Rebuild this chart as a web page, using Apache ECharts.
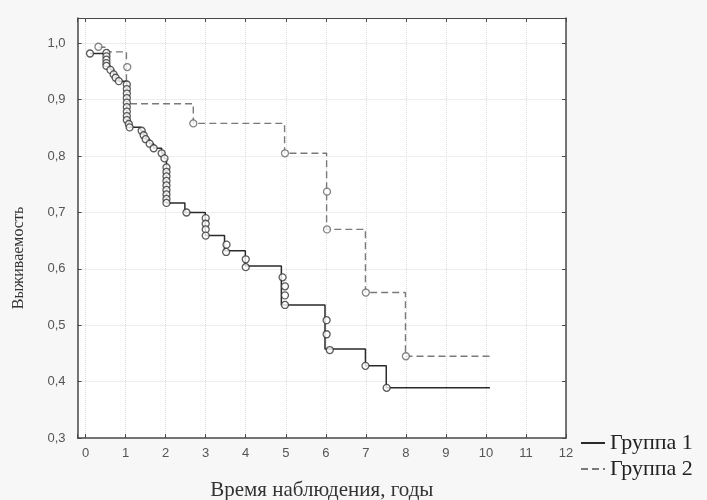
<!DOCTYPE html>
<html>
<head>
<meta charset="utf-8">
<script src="https://cdn.jsdelivr.net/npm/echarts@6/dist/echarts.min.js"></script>
<style>
html,body{margin:0;padding:0;background:#f7f7f7;}
#c{width:707px;height:500px;}
</style>
</head>
<body>
<div id="c"></div>
<script>
// Tick labels
const xTickValues = [0,1,2,3,4,5,6,7,8,9,10,11,12];
const yTickValues = [0.3,0.4,0.5,0.6,0.7,0.8,0.9,1.0];

// Group 1: Kaplan–Meier step vertices (time, survival after the time)
const g1StepT = [0.11,0.52,0.62,0.70,0.75,0.83,1.03,1.08,1.10,1.38,1.45,1.50,1.60,1.70,1.90,1.97,2.02,2.48,2.99,3.47,3.99,4.89,5.98,6.99,7.51,10.1];
const g1StepS = [0.982,0.960,0.953,0.945,0.939,0.933,0.864,0.857,0.851,0.845,0.837,0.830,0.822,0.814,0.805,0.796,0.717,0.700,0.659,0.632,0.605,0.536,0.458,0.428,0.389,0.389];
// Group 1 markers
const g1MarkT = [0.11,0.52,0.52,0.52,0.52,0.52,0.62,0.70,0.75,0.83,
  1.03,1.03,1.03,1.03,1.03,1.03,1.03,1.03,1.03,1.08,1.10,
  1.40,1.45,1.50,1.60,1.70,1.90,1.97,
  2.02,2.02,2.02,2.02,2.02,2.02,2.02,2.02,2.02,
  2.52,3.00,3.00,3.00,3.00,3.52,3.51,4.00,4.00,
  4.92,4.98,4.98,4.98,6.02,6.02,6.10,6.99,7.52];
const g1MarkS = [0.982,0.983,0.977,0.971,0.965,0.960,0.953,0.945,0.939,0.933,
  0.927,0.919,0.911,0.903,0.895,0.887,0.879,0.871,0.864,0.857,0.851,
  0.845,0.837,0.830,0.822,0.814,0.805,0.796,
  0.780,0.772,0.764,0.756,0.748,0.740,0.732,0.724,0.717,
  0.700,0.690,0.680,0.670,0.659,0.643,0.630,0.617,0.603,
  0.585,0.569,0.553,0.536,0.509,0.484,0.456,0.428,0.389];

// Group 2
const g2StepT = [0.32,0.55,1.02,2.69,4.97,6.02,6.99,7.99,10.1];
const g2StepS = [0.993,0.985,0.893,0.858,0.805,0.670,0.558,0.445,0.445];
const g2MarkT = [0.32,1.04,2.69,4.98,6.03,6.03,7.00,8.00];
const g2MarkS = [0.994,0.958,0.858,0.805,0.737,0.670,0.558,0.445];

const zip = (a,b) => a.map((v,i)=>[v,b[i]]);

const frameColor = '#4a4a4a';
const tickFont = "'Liberation Sans', Arial, sans-serif";
const serif = "'Liberation Serif', 'Times New Roman', serif";

const isTick = (v, list) => list.some(t => Math.abs(t - v) < 1e-6);

const chart = echarts.init(document.getElementById('c'), null, {renderer:'canvas'});
chart.setOption({
  animation: false,
  backgroundColor: '#f7f7f7',
  grid: {left: 77.6, right: 141, top: 18, bottom: 62, show: true, backgroundColor: '#ffffff', borderWidth: 0,
    containLabel: false, outerBoundsMode: 'none'},
  xAxis: [{
    type: 'value', position: 'bottom', min: -0.2, max: 12, splitNumber: 12, minInterval: 1, maxInterval: 1,
    name: 'Время наблюдения, годы', nameLocation: 'middle', nameGap: 42,
    nameTextStyle: {fontFamily: serif, fontSize: 21, color: '#333'},
    axisLine: {show: true, onZero: false, lineStyle: {color: frameColor, width: 1.5}},
    axisTick: {show: true, inside: true, length: 4, lineStyle: {color: frameColor}},
    axisLabel: {color: '#555', fontFamily: tickFont, fontSize: 13, margin: 9,
      formatter: v => isTick(v, xTickValues) ? String(Math.round(v)) : ''},
    splitLine: {show: true, lineStyle: {type: 'dotted', color: '#dcdcdc', width: 1}}
  },{
    type: 'value', position: 'top', min: -0.2, max: 12, splitNumber: 12, minInterval: 1, maxInterval: 1,
    axisLine: {show: true, onZero: false, lineStyle: {color: frameColor, width: 1}},
    axisTick: {show: true, inside: true, length: 4, lineStyle: {color: frameColor}},
    axisLabel: {show: false}, splitLine: {show: false}
  }],
  yAxis: [{
    type: 'value', position: 'left', min: 0.3, max: 1.045, interval: 0.1,
    name: 'Выживаемость', nameLocation: 'middle', nameGap: 51, nameRotate: 90,
    nameTextStyle: {fontFamily: serif, fontSize: 16, color: '#333', padding: [0, 60, 0, 0]},
    axisLine: {show: true, onZero: false, lineStyle: {color: frameColor, width: 1.5}},
    axisTick: {show: true, inside: true, length: 4, lineStyle: {color: frameColor}},
    axisLabel: {color: '#555', fontFamily: tickFont, fontSize: 13, margin: 12,
      formatter: v => isTick(v, yTickValues) ? v.toFixed(1).replace('.', ',') : ''},
    splitLine: {show: true, lineStyle: {type: 'dotted', color: '#dcdcdc', width: 1}}
  },{
    type: 'value', position: 'right', min: 0.3, max: 1.045, interval: 0.1,
    axisLine: {show: true, onZero: false, lineStyle: {color: frameColor, width: 1.5}},
    axisTick: {show: true, inside: true, length: 4, lineStyle: {color: frameColor}},
    axisLabel: {show: false}, splitLine: {show: false}
  }],
  legend: {
    orient: 'vertical', left: 575, top: 427, itemWidth: 24, itemHeight: 14, itemGap: 4,
    itemStyle: {opacity: 0},
    data: [{name: 'Группа 1', icon: 'inherit'}, {name: 'Группа 2', icon: 'inherit'}],
    textStyle: {fontFamily: serif, fontSize: 22, color: '#222'}
  },
  series: [
    {name: 'Группа 1', type: 'line', step: 'end', data: zip(g1StepT, g1StepS), symbol: 'none',
      lineStyle: {color: '#2a2a2a', width: 1.5}, itemStyle: {color: '#2a2a2a'}, z: 2},
    {name: 'Группа 2', type: 'line', step: 'end', data: zip(g2StepT, g2StepS), symbol: 'none',
      lineStyle: {color: '#7a7a7a', width: 1.4, type: [7, 4]}, itemStyle: {color: '#7a7a7a'}, z: 2},
    {name: 'g1m', type: 'scatter', data: zip(g1MarkT, g1MarkS), symbol: 'circle', symbolSize: 7,
      itemStyle: {color: '#ffffff', borderColor: '#333333', borderWidth: 1.3}, z: 4},
    {name: 'g2m', type: 'scatter', data: zip(g2MarkT, g2MarkS), symbol: 'circle', symbolSize: 7,
      itemStyle: {color: '#ffffff', borderColor: '#666666', borderWidth: 1.3}, z: 4}
  ]
});
</script>
</body>
</html>
